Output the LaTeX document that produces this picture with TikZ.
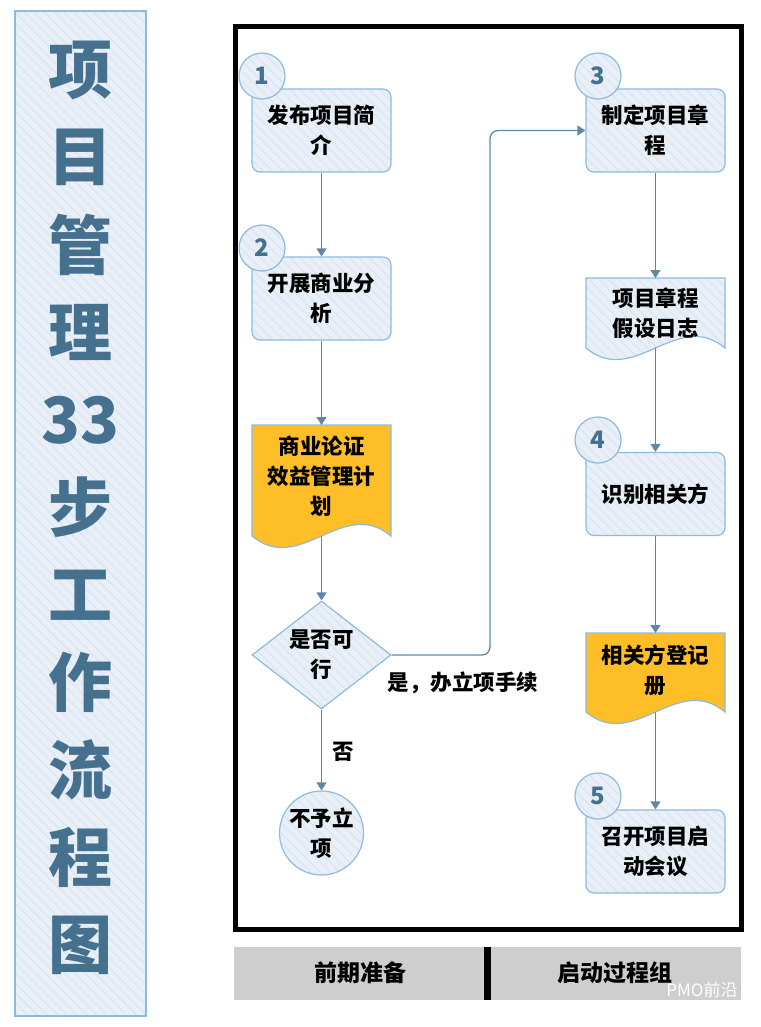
\documentclass[tikz,border=0pt]{standalone}
\usepackage{fontspec}
\setmainfont{Noto Sans CJK SC}
\usepackage{tikz}
\usetikzlibrary{shapes.geometric,arrows.meta,patterns.meta}
\definecolor{panel}{HTML}{E9EFF7}
\definecolor{hatch}{HTML}{DAE5F1}
\definecolor{rim}{HTML}{8CBBDE}
\definecolor{steel}{HTML}{45718F}
\definecolor{flowline}{HTML}{5E88A6}
\definecolor{amber}{HTML}{FDBE28}
\definecolor{bargray}{HTML}{CECECE}

\begin{document}
\begin{tikzpicture}[x=1pt,y=-1pt,
    striped/.style={preaction={fill=panel},preaction={pattern={Lines[angle=-45,distance=7pt,line width=1.1pt]},pattern color=hatch}},
    boxfont/.style={font=\fontsize{21.5}{30}\selectfont\bfseries},
    stepbox/.style={rectangle,rounded corners=8pt,draw=rim,line width=1.2pt,striped,minimum width=139pt,minimum height=83pt,align=center,inner sep=2pt,boxfont},
    numdot/.style={circle,draw=rim,line width=1.2pt,striped,minimum size=46pt,inner sep=0pt,text=steel,font=\fontsize{24}{24}\selectfont\bfseries},
    docframe/.style={rectangle,minimum width=139pt,inner sep=0pt,outer sep=0pt},
    docwave/.style={draw=rim,line width=1.2pt},
    doctext/.style={align=center,inner sep=0pt,boxfont},
    decide/.style={diamond,aspect=1.287,draw=rim,line width=1.2pt,striped,minimum width=139pt,minimum height=108pt,inner sep=0pt,align=center,boxfont},
    endcircle/.style={circle,draw=rim,line width=1.2pt,striped,minimum size=84pt,inner sep=0pt,align=center,boxfont},
    plain/.style={inner sep=0pt,boxfont},
    titlechar/.style={inner sep=0pt,text=steel,font=\fontsize{64}{64}\selectfont\bfseries},
    bartext/.style={inner sep=0pt,font=\fontsize{23}{23}\selectfont\bfseries},
    wmark/.style={inner sep=0pt,text=white,font=\fontsize{17}{17}\selectfont},
    flow/.style={draw=flowline,line width=1.3pt,-{Triangle[width=10pt,length=8pt]}}]
    \useasboundingbox (0,0) rectangle (760,1027);

    \path[striped,draw=rim,line width=2pt] (15,11) rectangle (146,1016);
    \foreach \ch [count=\i from 0] in {项,目,管,理,33,步,工,作,流,程,图}
        \node[titlechar] (t\i) at (80,70+87.5*\i) {\ch};

    \draw[line width=5pt] (235,27) rectangle (741,929);

    \node[stepbox] (brief) at (321.5,130.5) {发布项目简\\介};
    \node[numdot] (n1) at (262,76) {1};
    \node[stepbox] (biz) at (321.5,298.5) {开展商业分\\析};
    \node[numdot] (n2) at (262,248) {2};

    \node[docframe,minimum height=111pt] (case) at (321.5,480.5) {};
    \path[docwave,fill=amber] (case.north west) -- (case.north east) -- (case.south east)
        .. controls +(-48,-40) and +(48,40) .. (case.south west) -- cycle;
    \node[doctext] (casetxt) at (321.5,476) {商业论证\\效益管理计\\划};

    \node[decide] (feas) at (321.5,655) {是否可\\行};
    \node[endcircle] (reject) at (321.5,833) {不予立\\项};
    \node[plain] (nolbl) at (343,752) {否};
    \node[plain] (yeslbl) at (463,683) {是，办立项手续};

    \node[stepbox] (charter) at (655.5,130.5) {制定项目章\\程};
    \node[numdot] (n3) at (598,76) {3};

    \node[docframe,minimum height=70pt] (logdoc) at (655.5,313) {};
    \path[docwave,striped] (logdoc.north west) -- (logdoc.north east) -- (logdoc.south east)
        .. controls +(-48,-40) and +(48,40) .. (logdoc.south west) -- cycle;
    \node[doctext] (logtxt) at (655.5,313) {项目章程\\假设日志};

    \node[stepbox] (stake) at (655.5,494) {识别相关方};
    \node[numdot] (n4) at (598,440) {4};

    \node[docframe,minimum height=79pt] (reg) at (655.5,672.5) {};
    \path[docwave,fill=amber] (reg.north west) -- (reg.north east) -- (reg.south east)
        .. controls +(-48,-40) and +(48,40) .. (reg.south west) -- cycle;
    \node[doctext] (regtxt) at (655.5,670) {相关方登记\\册};

    \node[stepbox] (kickoff) at (655.5,851.5) {召开项目启\\动会议};
    \node[numdot] (n5) at (598,796) {5};

    \coordinate (turn) at (490,0);
    \draw[flow] (brief) -- (biz);
    \draw[flow] (biz) -- (case);
    \draw[flow] (case.south) -- (feas);
    \draw[flow] (feas) -- (reject);
    \draw[flow,rounded corners=8pt] (feas.east) -| (turn |- charter.west) -- (charter.west);
    \draw[flow] (charter) -- (logdoc);
    \draw[flow] (logdoc.south) -- (stake);
    \draw[flow] (stake) -- (reg);
    \draw[flow] (reg.south) -- (kickoff);

    \fill[bargray] (234,947) rectangle (741,1000);
    \fill[black] (484,947) rectangle (491,1000);
    \node[bartext] (prep) at (360,973) {前期准备};
    \node[bartext] (init) at (615,973) {启动过程组};
    \node[wmark] (wm) at (702,990) {PMO前沿};
\end{tikzpicture}
\end{document}
